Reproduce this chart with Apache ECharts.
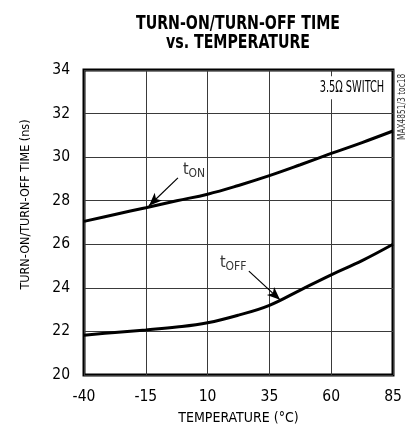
<!DOCTYPE html>
<html><head><meta charset="utf-8">
<script src="https://cdn.jsdelivr.net/npm/echarts@6/dist/echarts.min.js"></script>
<style>html,body{margin:0;padding:0;background:#fff}#c{width:413px;height:430px}</style>
</head><body><div id="c"></div>
<script>
var temps = [-40, -27.5, -15, -2.5, 10, 22.5, 35, 47.5, 60, 72.5, 85];
var tOn  = [27.05, 27.37, 27.68, 28.0, 28.3, 28.7, 29.15, 29.65, 30.17, 30.67, 31.2];
var tOff = [21.83, 21.95, 22.07, 22.2, 22.4, 22.75, 23.2, 23.9, 24.6, 25.25, 26.0];
var xTicks = [-40, -15, 10, 35, 60, 85];
var yTicks = [20, 22, 24, 26, 28, 30, 32, 34];
var titleLines = ['TURN-ON/TURN-OFF TIME', 'vs. TEMPERATURE'];
var noteText = '3.5Ω SWITCH';
var noteAt = [68.4, 33.18];
var codeText = 'MAX4851/3 toc18';

var NARROW = "'Liberation Sans Narrow','DejaVu Sans Condensed','Arial Narrow',sans-serif";
function pairs(xs, ys){ return xs.map(function(x,i){ return [x, ys[i]]; }); }

var chart = echarts.init(document.getElementById('c'), null, {renderer:'canvas'});
chart.setOption({
  animation:false,
  backgroundColor:'#fff',
  grid:{left:84, right:20, top:70, bottom:52, show:true, borderColor:'#000', borderWidth:3, backgroundColor:'transparent'},
  xAxis:{
    type:'value', min:-40, max:85, interval:25,
    name:'TEMPERATURE (°C)', nameLocation:'middle', nameGap:36,
    nameTextStyle:{fontFamily:NARROW, fontSize:14, color:'#000'},
    axisLine:{show:false}, axisTick:{show:false},
    axisLabel:{fontFamily:NARROW, fontSize:15.5, color:'#000', margin:14},
    splitLine:{show:true, lineStyle:{color:'#3a3a3a', width:1}}
  },
  yAxis:{
    type:'value', min:20, max:34, interval:2,
    name:'TURN-ON/TURN-OFF TIME (ns)', nameLocation:'middle', nameGap:52,
    nameTextStyle:{fontFamily:NARROW, fontSize:12.5, color:'#000', padding:[0,0,0,36]},
    axisLine:{show:false}, axisTick:{show:false},
    axisLabel:{fontFamily:NARROW, fontSize:15.5, color:'#000', margin:14},
    splitLine:{show:true, lineStyle:{color:'#3a3a3a', width:1}}
  },
  series:[
    {
      name:'tON', type:'line', data:pairs(temps, tOn), smooth:0.4, showSymbol:false,
      lineStyle:{color:'#000', width:3}, z:5,
      markLine:{
        silent:true, symbol:['none','arrow'], symbolSize:[8,13],
        lineStyle:{color:'#000', width:1.2, type:'solid'}, label:{show:false},
        data:[[{coord:[-2.0,29.05]},{coord:[-13.7,27.77]}]]
      },
      markPoint:{
        silent:true, symbol:'circle', symbolSize:0,
        data:[
          {coord:[0,29.4], label:{show:true, position:'right', distance:0, formatter:'{t|t}{s|ON}',
            rich:{t:{fontFamily:NARROW, fontSize:16, color:'#333'}, s:{fontFamily:NARROW, fontSize:12, color:'#333', padding:[8,0,0,0]}}}}
        ]
      }
    },
    {
      name:'tOFF', type:'line', data:pairs(temps, tOff), smooth:0.4, showSymbol:false,
      lineStyle:{color:'#000', width:3}, z:5,
      markLine:{
        silent:true, symbol:['none','arrow'], symbolSize:[8,13],
        lineStyle:{color:'#000', width:1.2, type:'solid'}, label:{show:false},
        data:[[{coord:[26.7,24.77]},{coord:[39.3,23.45]}]]
      },
      markPoint:{
        silent:true, symbol:'circle', symbolSize:0,
        data:[
          {coord:[15.0,25.14], label:{show:true, position:'right', distance:0, formatter:'{t|t}{s|OFF}',
            rich:{t:{fontFamily:NARROW, fontSize:16, color:'#333'}, s:{fontFamily:NARROW, fontSize:12, color:'#333', padding:[8,0,0,0]}}}}
        ]
      }
    }
  ]
});

var notePx = chart.convertToPixel({gridIndex:0}, noteAt);
var gridRight = chart.convertToPixel({gridIndex:0}, [85, 20]);
chart.setOption({
  graphic:[
    {type:'text', x:238, y:24.5, scaleX:0.83, z:10,
     style:{text:titleLines[0], font:"bold 19px "+NARROW, fill:'#000', align:'center', verticalAlign:'middle'}},
    {type:'text', x:238, y:43.5, scaleX:0.83, z:10,
     style:{text:titleLines[1], font:"bold 19px "+NARROW, fill:'#000', align:'center', verticalAlign:'middle'}},
    {type:'text', x:notePx[0], y:notePx[1], scaleX:0.66, z:10,
     style:{text:noteText, font:"16.5px "+NARROW, fill:'#000', align:'center', verticalAlign:'middle',
            backgroundColor:'#fff', padding:[3,4,3,4]}},
    {type:'text', x:gridRight[0]+4, y:140, rotation:Math.PI/2, scaleX:0.92, scaleY:1.1, z:10,
     style:{text:codeText, font:"9px "+NARROW, fill:'#333', align:'left', verticalAlign:'top'}}
  ]
});
</script></body></html>
